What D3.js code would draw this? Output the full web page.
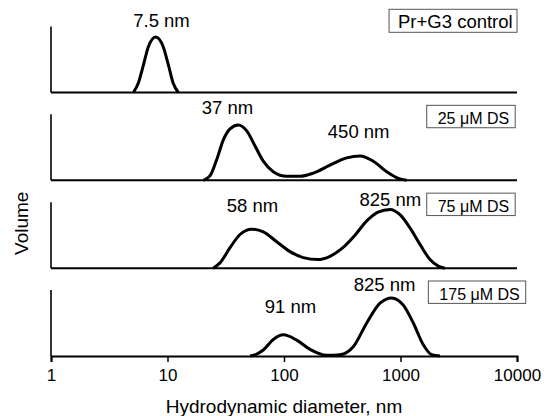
<!DOCTYPE html>
<html><head><meta charset="utf-8">
<script src="https://cdn.jsdelivr.net/npm/d3@7"></script>
<style>html,body{margin:0;padding:0;background:#fff;}svg{display:block;}</style>
</head><body>
<script>
// ---- data (diameter in nm, relative volume 0..1 of panel height) ----
const panelNames = ["Pr+G3 control", "25 \u03BCM DS", "75 \u03BCM DS", "175 \u03BCM DS"];
const xTicks = [1, 10, 100, 1000, 10000];

const ctrlDiam = [5.09, 5.61, 6.20, 6.84, 7.92, 9.20, 10.2, 11.2, 12.4];
const ctrlVol  = [0, 0.14, 0.41, 0.69, 0.84, 0.69, 0.41, 0.14, 0];

const ds25Diam = [20.3, 23.2, 26.4, 30.1, 34.4, 40.5, 47.9, 56.4, 66.4, 80.9, 105.5, 137, 178.5, 248, 345, 449, 584, 762, 958, 1130];
const ds25Vol  = [0, 0.07, 0.31, 0.61, 0.78, 0.84, 0.75, 0.52, 0.29, 0.13, 0.06, 0.06, 0.11, 0.23, 0.34, 0.37, 0.29, 0.13, 0.03, 0];

const ds75Diam = [24.7, 28.2, 34.4, 41.9, 52.8, 66.4, 86.6, 112.6, 146.5, 195.8, 248.3, 314.7, 406.8, 515.6, 641.2, 812.7, 990, 1206, 1470, 1792, 2111, 2410];
const ds75Vol  = [0, 0.08, 0.31, 0.51, 0.59, 0.55, 0.40, 0.25, 0.16, 0.13, 0.18, 0.30, 0.50, 0.72, 0.85, 0.89, 0.81, 0.61, 0.36, 0.13, 0.03, 0];

const ds175Diam = [51.1, 58.3, 66.4, 80.9, 98.6, 128.5, 167.2, 232.5, 302.5, 393.3, 512.9, 666.8, 840.4, 1057, 1288, 1569, 1853, 2183];
const ds175Vol  = [0, 0.03, 0.09, 0.25, 0.32, 0.24, 0.10, 0.01, 0.02, 0.14, 0.50, 0.80, 0.88, 0.77, 0.50, 0.17, 0.02, 0];

// peak labels: text, anchor diameter, level (relative volume)
const peakText  = [["7.5 nm"], ["37 nm", "450 nm"], ["58 nm", "825 nm"], ["91 nm", "825 nm"]];
const peakDiam  = [[8.88], [32.7, 437.7], [53.7, 817], [113.7, 729]];
const peakLevel = [[1.0], [1.0, 0.636], [0.85, 0.94], [0.65, 0.99]];

const xTitle = "Hydrodynamic diameter, nm";
const yTitle = "Volume";

// ---- layout ----
const W = 544, H = 416;
const FONT = "'Liberation Sans', Arial, Helvetica, sans-serif";
const x0 = 51, x1 = 517;
const firstBase = 92.5, step = 87.83, panelH = 66;

const svg = d3.select("body").append("svg").attr("width", W).attr("height", H)
  .style("font-family", FONT);

const x = d3.scaleLog().domain([1, 10000]).range([x0, x1]);

const series = [
  ctrlDiam.map((d, i) => [d, ctrlVol[i]]),
  ds25Diam.map((d, i) => [d, ds25Vol[i]]),
  ds75Diam.map((d, i) => [d, ds75Vol[i]]),
  ds175Diam.map((d, i) => [d, ds175Vol[i]])
];

series.forEach((pts, i) => {
  const base = firstBase + i * step;
  const y = d3.scaleLinear().domain([0, 1]).range([base, base - panelH]);
  const g = svg.append("g");

  // y axis line
  g.append("line").attr("x1", x0).attr("x2", x0).attr("y1", y(1)).attr("y2", base)
    .attr("stroke", "#000").attr("stroke-width", 1.6);

  // baseline / x axis
  if (i === series.length - 1) {
    const ax = d3.axisBottom(x).tickValues(xTicks).tickFormat(d3.format("d"))
      .tickSize(6).tickPadding(7);
    const axg = g.append("g").attr("transform", `translate(0,${base})`).call(ax);
    axg.select(".domain").attr("stroke", "#000").attr("stroke-width", 2);
    axg.selectAll(".tick line").attr("stroke", "#000").attr("stroke-width", 1.5);
    axg.selectAll(".tick text").attr("fill", "#000")
      .style("font-size", "17px").style("font-family", FONT);
  } else {
    g.append("line").attr("x1", x0).attr("x2", x1).attr("y1", base).attr("y2", base)
      .attr("stroke", "#000").attr("stroke-width", 2);
  }

  // curve
  const line = d3.line().x(d => x(d[0])).y(d => y(d[1])).curve(d3.curveMonotoneX);
  g.append("path").datum(pts).attr("d", line)
    .attr("fill", "none").attr("stroke", "#000").attr("stroke-width", 3)
    .attr("stroke-linejoin", "round").attr("stroke-linecap", "butt");

  // peak labels
  peakText[i].forEach((t, j) => {
    g.append("text").attr("x", x(peakDiam[i][j])).attr("y", y(peakLevel[i][j]))
      .attr("text-anchor", "middle").style("font-size", "18.5px").text(t);
  });

  // boxed panel name
  const isCtrl = i === 0;
  const fs = isCtrl ? 18.5 : 16;
  const boxTop = isCtrl ? base - 83.2 : base - 75;
  const boxH = isCtrl ? 23 : 22.4;
  const boxRight = i === 3 ? 525.7 : (isCtrl ? 517 : 515.2);
  const padL = isCtrl ? 9 : 11, padR = isCtrl ? 4.3 : 6;
  const txt = g.append("text").attr("x", boxRight - padR).attr("y", boxTop + 18.8)
    .attr("text-anchor", "end").style("font-size", fs + "px").text(panelNames[i]);
  const bb = txt.node().getBBox();
  g.insert("rect", () => txt.node()).attr("x", bb.x - padL).attr("y", boxTop)
    .attr("width", bb.width + padL + padR).attr("height", boxH)
    .attr("fill", "#fff").attr("stroke", "#555").attr("stroke-width", 1);
});

// axis titles
svg.append("text").attr("x", (x0 + x1) / 2).attr("y", 412.7).attr("text-anchor", "middle")
  .style("font-size", "19px").text(xTitle);
svg.append("text").attr("transform", "translate(28.3,223.3) rotate(-90)")
  .attr("text-anchor", "middle").style("font-size", "19px").text(yTitle);
</script>
</body></html>
